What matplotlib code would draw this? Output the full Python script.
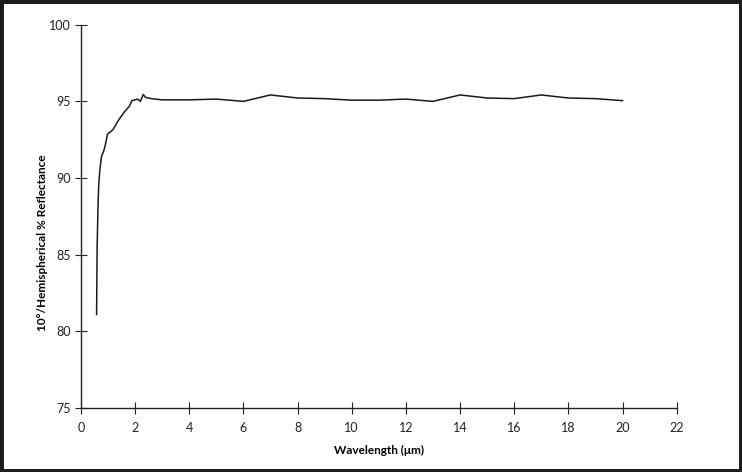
import matplotlib
matplotlib.use("Agg")
from matplotlib import pyplot as plt
from matplotlib.patches import Rectangle

# wavelength (um) and 10deg/hemispherical reflectance (%)
wavelength = [0.58, 0.60, 0.63, 0.66, 0.70, 0.76, 0.85, 0.92, 0.98, 1.08, 1.18,
              1.30, 1.40, 1.60, 1.80, 1.88, 2.00, 2.10, 2.20, 2.30, 2.40, 2.60,
              3, 4, 5, 6, 7, 8, 9, 10, 11, 12, 13, 14, 15, 16, 17, 18, 19, 20]
reflectance = [81.1, 85.5, 88.0, 89.6, 90.5, 91.4, 91.8, 92.3, 92.85, 93.0, 93.15,
               93.5, 93.8, 94.3, 94.7, 95.05, 95.1, 95.15, 95.0, 95.45, 95.25, 95.18,
               95.1, 95.1, 95.15, 95.0, 95.42, 95.22, 95.18, 95.08, 95.08, 95.15,
               95.0, 95.42, 95.22, 95.18, 95.42, 95.22, 95.18, 95.05]

x_ticks = list(range(0, 23, 2))
y_ticks = [75, 80, 85, 90, 95, 100]

plt.rcParams['font.family'] = ['Lato', 'DejaVu Sans']

fig = plt.figure(figsize=(7.42, 4.72), dpi=100)
ax = fig.add_axes([0.109, 0.1356, 0.803, 0.812])

ax.plot(wavelength, reflectance, color='#1a1a1a', linewidth=1.1)

ax.set_xlim(0, 22)
ax.set_ylim(75, 100)
ax.set_xticks(x_ticks)
ax.set_yticks(y_ticks)
ax.tick_params(direction='inout', length=8, width=0.8, labelsize=9, colors='#222222')
ax.tick_params(axis='x', pad=6)

for s in ['top', 'right']:
    ax.spines[s].set_visible(False)
for s in ['left', 'bottom']:
    ax.spines[s].set_linewidth(1.0)
    ax.spines[s].set_color('#222222')

ax.set_xlabel('Wavelength (μm)', fontsize=8.5, fontweight='bold', labelpad=8)
ax.set_ylabel('10°/Hemispherical % Reflectance', fontsize=8.5, fontweight='bold')
ax.yaxis.set_label_coords(-0.055, 0.43)

# dark frame around the whole picture
fig.patches.append(Rectangle((0, 0), 1, 1, transform=fig.transFigure,
                             fill=False, edgecolor='#1c1c1c', linewidth=5))

fig.savefig('out.png', dpi=100)
